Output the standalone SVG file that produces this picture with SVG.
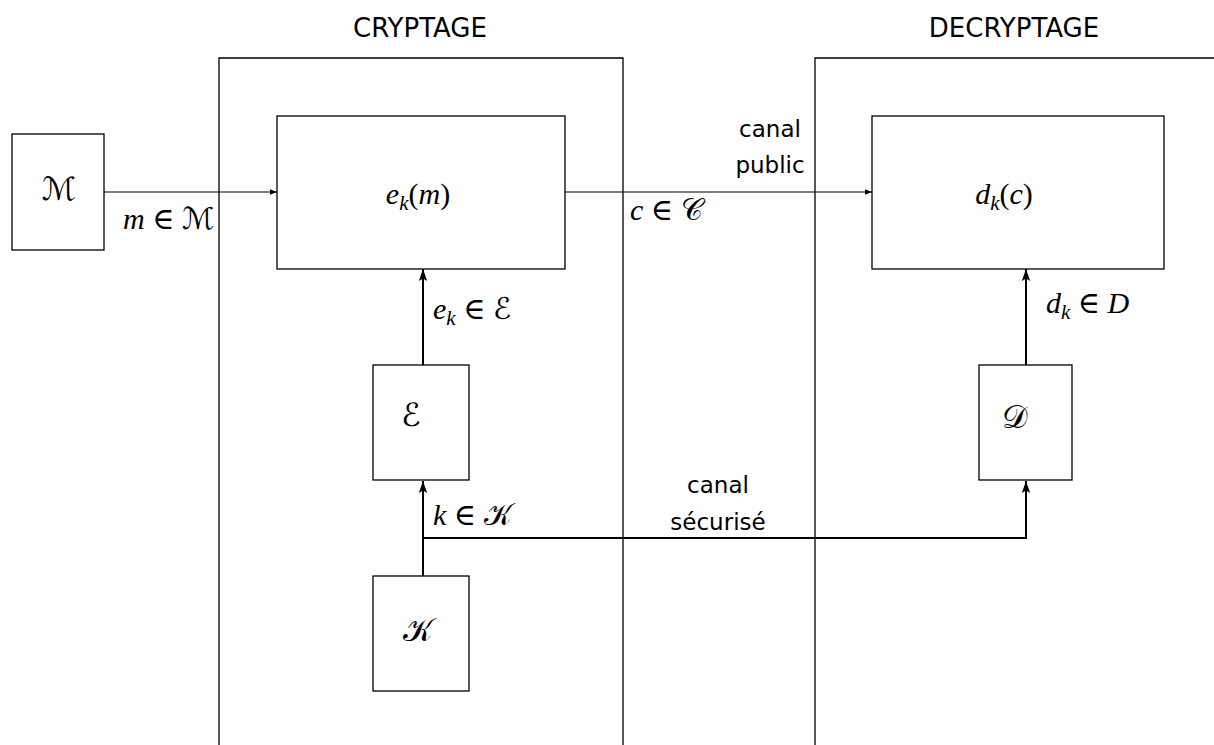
<svg xmlns="http://www.w3.org/2000/svg" width="1214" height="745" viewBox="0 0 1214 745">
<style>
.frame{fill:none;stroke:#000;stroke-width:1.3}
.box{fill:#fff;stroke:#000;stroke-width:1.3}
.thin{fill:none;stroke:#000;stroke-width:1.1}
.thick{fill:none;stroke:#000;stroke-width:2}
.sans{font-family:"DejaVu Sans","Liberation Sans",sans-serif;font-size:23px;fill:#000}
.title{font-family:"DejaVu Sans","Liberation Sans",sans-serif;font-size:26px;fill:#000}
.math{font-family:"Liberation Serif","DejaVu Serif",serif;font-size:30px;fill:#000}
.it{font-style:italic}
.sub{font-style:italic;font-size:21px}
.cal{font-family:"DejaVu Serif","DejaVu Sans",serif;font-style:normal}
.bigcal{font-size:32px}
</style>
<defs>
<marker id="ahs" viewBox="0 0 10 10" refX="10" refY="5" markerWidth="7" markerHeight="7" markerUnits="userSpaceOnUse" orient="auto"><path d="M0,1 L10,5 L0,9 Z" fill="#000"/></marker>
<marker id="ahl" viewBox="0 0 10 10" refX="10" refY="5" markerWidth="12" markerHeight="12" markerUnits="userSpaceOnUse" orient="auto"><path d="M0,1.5 L10,5 L0,8.5 L2,5 Z" fill="#000"/></marker>
</defs>
<rect width="1214" height="745" fill="#fff"/>
<g id="cryptage">
<path class="frame" d="M219,745 V58 H623 V745"/>
<text class="title" x="420" y="37" text-anchor="middle">CRYPTAGE</text>
</g>
<g id="decryptage">
<path class="frame" d="M815,745 V58 H1216"/>
<text class="title" x="1014" y="37" text-anchor="middle">DECRYPTAGE</text>
</g>
<g id="connectors">
<line class="thin" x1="104" y1="192" x2="277" y2="192" marker-end="url(#ahs)"/>
<line class="thin" x1="565" y1="192" x2="872" y2="192" marker-end="url(#ahs)"/>
<line class="thick" x1="423" y1="365" x2="423" y2="269" marker-end="url(#ahl)"/>
<line class="thick" x1="423" y1="576" x2="423" y2="481" marker-end="url(#ahl)"/>
<path class="thick" d="M423,538 H1026 V481" marker-end="url(#ahl)"/>
<line class="thick" x1="1026" y1="365" x2="1026" y2="269" marker-end="url(#ahl)"/>
<text class="math" x="123" y="229"><tspan class="it">m</tspan> ∈ <tspan class="cal">ℳ</tspan></text>
<text class="math" x="630" y="220"><tspan class="it">c</tspan> ∈ <tspan class="cal">𝒞</tspan></text>
<text class="sans" x="770" y="137" text-anchor="middle">canal</text>
<text class="sans" x="770" y="173" text-anchor="middle">public</text>
<text class="math" x="433" y="319"><tspan class="it">e</tspan><tspan class="sub" dy="6">k</tspan><tspan dy="-6"> ∈ </tspan><tspan class="cal">ℰ</tspan></text>
<text class="math" x="1046" y="313"><tspan class="it">d</tspan><tspan class="sub" dy="6">k</tspan><tspan dy="-6"> ∈ </tspan><tspan class="it">D</tspan></text>
<text class="math" x="433" y="525"><tspan class="it">k</tspan> ∈ <tspan class="cal">𝒦</tspan></text>
<text class="sans" x="718" y="493" text-anchor="middle">canal</text>
<text class="sans" x="718" y="530" text-anchor="middle">sécurisé</text>
</g>
<g id="node-M">
<rect class="box" x="12" y="134" width="92" height="116"/>
<text class="math cal bigcal" x="59" y="200" text-anchor="middle">ℳ</text>
</g>
<g id="node-ekm">
<rect class="box" x="277" y="116" width="288" height="153"/>
<text class="math" x="418" y="204" text-anchor="middle"><tspan class="it">e</tspan><tspan class="sub" dy="6">k</tspan><tspan dy="-6">(</tspan><tspan class="it">m</tspan>)</text>
</g>
<g id="node-dkc">
<rect class="box" x="872" y="116" width="292" height="153"/>
<text class="math" x="1004" y="204" text-anchor="middle"><tspan class="it">d</tspan><tspan class="sub" dy="6">k</tspan><tspan dy="-6">(</tspan><tspan class="it">c</tspan>)</text>
</g>
<g id="node-E">
<rect class="box" x="373" y="365" width="96" height="115"/>
<text class="math cal bigcal" x="411" y="426" text-anchor="middle">ℰ</text>
</g>
<g id="node-D">
<rect class="box" x="979" y="365" width="93" height="115"/>
<text class="math cal bigcal" x="1015" y="428" text-anchor="middle">𝒟</text>
</g>
<g id="node-K">
<rect class="box" x="373" y="576" width="96" height="115"/>
<text class="math cal bigcal" x="418" y="641" text-anchor="middle">𝒦</text>
</g>
</svg>
